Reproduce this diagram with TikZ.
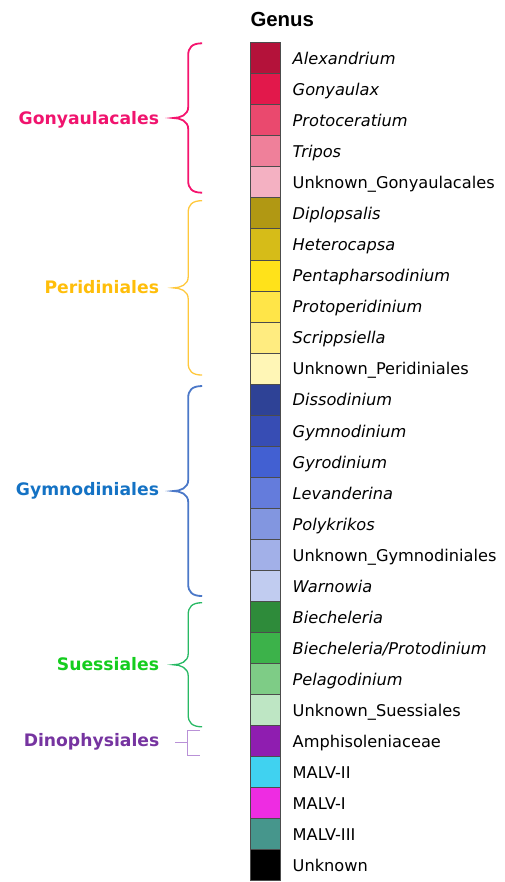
\documentclass[tikz,border=0pt]{standalone}
\usepackage{fontspec}
\setmainfont{DejaVu Sans}[ItalicFont={DejaVu Sans Oblique},BoldFont={DejaVu Sans Bold}]
\newfontfamily\titlefont{Liberation Sans}
\usetikzlibrary{positioning,calc}

\definecolor{alexandrium}{RGB}{180,18,58}
\definecolor{gonyaulax}{RGB}{226,24,75}
\definecolor{protoceratium}{RGB}{234,73,110}
\definecolor{tripos}{RGB}{239,128,154}
\definecolor{unkgony}{RGB}{244,177,194}
\definecolor{diplopsalis}{RGB}{177,152,19}
\definecolor{heterocapsa}{RGB}{214,188,24}
\definecolor{pentaphar}{RGB}{255,226,26}
\definecolor{protoperi}{RGB}{255,229,72}
\definecolor{scrippsiella}{RGB}{255,236,128}
\definecolor{unkperi}{RGB}{255,246,182}
\definecolor{dissodinium}{RGB}{46,66,150}
\definecolor{gymnodinium}{RGB}{55,77,180}
\definecolor{gyrodinium}{RGB}{66,96,210}
\definecolor{levanderina}{RGB}{100,124,220}
\definecolor{polykrikos}{RGB}{130,150,224}
\definecolor{unkgymno}{RGB}{162,176,232}
\definecolor{warnowia}{RGB}{193,204,240}
\definecolor{biecheleria}{RGB}{46,139,58}
\definecolor{bieproto}{RGB}{60,178,74}
\definecolor{pelagodinium}{RGB}{126,204,134}
\definecolor{unksuess}{RGB}{190,230,196}
\definecolor{amphisol}{RGB}{143,29,176}
\definecolor{malvii}{RGB}{64,210,240}
\definecolor{malvi}{RGB}{238,44,226}
\definecolor{malviii}{RGB}{70,150,140}
\definecolor{unknown}{RGB}{0,0,0}

\definecolor{gonytext}{RGB}{240,20,110}
\definecolor{gonybrace}{RGB}{245,20,110}
\definecolor{peritext}{RGB}{255,190,10}
\definecolor{peribrace}{RGB}{255,200,60}
\definecolor{gymnotext}{RGB}{20,114,196}
\definecolor{gymnobrace}{RGB}{75,120,200}
\definecolor{suesstext}{RGB}{20,205,30}
\definecolor{suessbrace}{RGB}{40,185,100}
\definecolor{dinotext}{RGB}{118,52,160}
\definecolor{dinobrace}{RGB}{185,145,215}

% curly brace from #1 (top end) to #2 (bottom end), tip named #4
\newcommand{\orderbrace}[4]{%
  \draw[#3] let \p1=(#1), \p2=(#2), \n1={(\y1+\y2)/2} in
    (\p1) .. controls +(-10pt,0) and +(0,8pt) .. ({\x1-14pt},{\y1-12pt})
    -- ({\x1-14pt},{\n1+11pt})
    .. controls +(0,-8pt) and +(7pt,0) .. ({\x1-29pt},\n1) coordinate (#4)
    .. controls +(7pt,0) and +(0,8pt) .. ({\x1-14pt},{\n1-11pt})
    -- ({\x1-14pt},{\y2+12pt})
    .. controls +(0,-8pt) and +(-10pt,0) .. (\p2);}

\begin{document}
\begin{tikzpicture}[x=1pt,y=1pt,
  swatch/.style={rectangle, draw=black!70, line width=0.9pt, minimum width=30.6pt, minimum height=31.04pt, inner sep=0pt, outer sep=0pt},
  genus/.style={anchor=base west, inner sep=0pt, font=\fontsize{16.2}{19}\selectfont},
  order/.style={anchor=base east, inner sep=0pt, font=\fontsize{17.2}{20}\selectfont\bfseries}]
  \useasboundingbox (0,0) rectangle (505,-882);

  \node[anchor=base west, inner sep=0pt, font=\titlefont\fontsize{20.4}{24}\selectfont\bfseries] (title) at (250.3,-26.7) {Genus};

  \foreach \col/\txt [count=\i] in {
    alexandrium/{\itshape Alexandrium}, gonyaulax/{\itshape Gonyaulax},
    protoceratium/{\itshape Protoceratium}, tripos/{\itshape Tripos},
    unkgony/{Unknown\_Gonyaulacales},
    diplopsalis/{\itshape Diplopsalis}, heterocapsa/{\itshape Heterocapsa},
    pentaphar/{\itshape Pentapharsodinium}, protoperi/{\itshape Protoperidinium},
    scrippsiella/{\itshape Scrippsiella}, unkperi/{Unknown\_Peridiniales},
    dissodinium/{\itshape Dissodinium}, gymnodinium/{\itshape Gymnodinium},
    gyrodinium/{\itshape Gyrodinium}, levanderina/{\itshape Levanderina},
    polykrikos/{\itshape Polykrikos}, unkgymno/{Unknown\_Gymnodiniales},
    warnowia/{\itshape Warnowia},
    biecheleria/{\itshape Biecheleria}, bieproto/{\itshape Biecheleria/Protodinium},
    pelagodinium/{\itshape Pelagodinium}, unksuess/{Unknown\_Suessiales},
    amphisol/{Amphisoleniaceae}, malvii/{MALV-II}, malvi/{MALV-I},
    malviii/{MALV-III}, unknown/{Unknown}}{
    \node[swatch, fill=\col] (sq\i) at (265.5,{-58.22-31.04*(\i-1)}) {};
    \node[genus] (lb\i) at ([xshift=11.7pt,yshift=-6.3pt]sq\i.east) {\txt};
  }

  \coordinate (gonyA) at ([xshift=-48pt,yshift=-0.6pt]sq1.north west);
  \coordinate (gonyB) at ([xshift=-48pt,yshift=5.2pt]sq5.south west);
  \orderbrace{gonyA}{gonyB}{gonybrace, line width=1.8pt}{gonyTip}
  \node[order, text=gonytext] (gony) at ([xshift=-14pt,yshift=-7pt]gonyTip) {Gonyaulacales};

  \coordinate (periA) at ([xshift=-48pt,yshift=-2.8pt]sq6.north west);
  \coordinate (periB) at ([xshift=-48pt,yshift=9.1pt]sq11.south west);
  \orderbrace{periA}{periB}{peribrace, line width=1.3pt}{periTip}
  \node[order, text=peritext] (peri) at ([xshift=-14pt,yshift=-5.4pt]periTip) {Peridiniales};

  \coordinate (gymnoA) at ([xshift=-48pt,yshift=-1.9pt]sq12.north west);
  \coordinate (gymnoB) at ([xshift=-48pt,yshift=5.4pt]sq18.south west);
  \orderbrace{gymnoA}{gymnoB}{gymnobrace, line width=1.8pt}{gymnoTip}
  \node[order, text=gymnotext] (gymno) at ([xshift=-14pt,yshift=-4.5pt]gymnoTip) {Gymnodiniales};

  \coordinate (suessA) at ([xshift=-48pt,yshift=-1.3pt]sq19.north west);
  \coordinate (suessB) at ([xshift=-48pt,yshift=-1.2pt]sq22.south west);
  \orderbrace{suessA}{suessB}{suessbrace, line width=1.3pt}{suessTip}
  \node[order, text=suesstext] (suess) at ([xshift=-14pt,yshift=-5.3pt]suessTip) {Suessiales};

  \coordinate (dinoA) at ([xshift=-50pt,yshift=-4.8pt]sq23.north west);
  \coordinate (dinoB) at ([xshift=-50pt,yshift=1.2pt]sq23.south west);
  \draw[dinobrace, line width=1pt] (dinoA) -- ++(-12.3,0) coordinate (dinoC) |- (dinoB);
  \draw[dinobrace, line width=1pt] ([yshift=-12.5pt]dinoC) -- ++(-12.7,0) coordinate (dinoTip);
  \node[order, text=dinotext] (dino) at ([xshift=-15.7pt,yshift=-4pt]dinoTip) {Dinophysiales};
\end{tikzpicture}
\end{document}
